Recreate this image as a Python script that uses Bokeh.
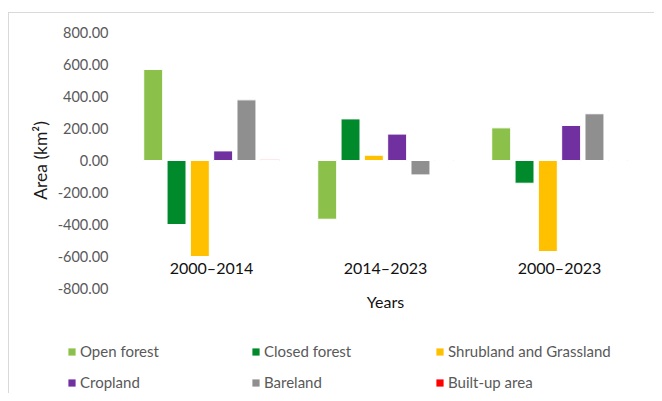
from bokeh.plotting import figure
from bokeh.models import (FactorRange, Range1d, FixedTicker, NumeralTickFormatter,
                          Legend, LegendItem, ColumnDataSource)
from bokeh.layouts import column, row
from bokeh.transform import dodge
from bokeh.core.properties import value
from bokeh.embed import file_html
from bokeh.resources import INLINE

periods = ["2000–2014", "2014–2023", "2000–2023"]
classes = ["Open forest", "Closed forest", "Shrubland and Grassland",
           "Cropland", "Bareland", "Built-up area"]
open_forest = [569, -367, 204]
closed_forest = [-400, 260, -142]
shrubland = [-600, 33, -569]
cropland = [60, 165, 219]
bareland = [379, -90, 292]
builtup = [4, 3, 3]
y_ticks = [-800, -600, -400, -200, 0, 200, 400, 600, 800]

series = [open_forest, closed_forest, shrubland, cropland, bareland, builtup]
colors = ["#8BC04A", "#008A2B", "#FFC000", "#7030A0", "#8F8F8F", "#FF0000"]

FONT = "Lato"

p = figure(x_range=FactorRange(factors=periods, range_padding=0),
           y_range=Range1d(-800, 800),
           width=645, height=307, output_backend="svg", toolbar_location=None,
           min_border_left=115, min_border_right=8, min_border_top=19,
           min_border_bottom=32)

src = ColumnDataSource(dict(period=periods, **{f"s{i}": s for i, s in enumerate(series)}))

pitch = 0.134
for i, (name, col) in enumerate(zip(classes, colors)):
    p.vbar(x=dodge("period", (i - 2.5) * pitch, range=p.x_range), top=f"s{i}",
           bottom=0, width=0.109, source=src, fill_color=col,
           line_color="white", line_width=1)

# y axis
p.yaxis.ticker = FixedTicker(ticks=y_ticks)
p.yaxis.formatter = NumeralTickFormatter(format="0.00")
p.yaxis.axis_line_color = None
p.yaxis.major_tick_line_color = None
p.yaxis.minor_tick_line_color = None
p.yaxis.major_label_standoff = 10
p.yaxis.major_label_text_font = FONT
p.yaxis.major_label_text_font_size = "14.5px"
p.yaxis.major_label_text_color = "#595959"
p.yaxis.axis_label = "Area (km²)"
p.yaxis.axis_label_text_font = FONT
p.yaxis.axis_label_text_font_size = "17.5px"
p.yaxis.axis_label_text_font_style = "normal"
p.yaxis.axis_label_text_color = "#1a1a1a"
p.yaxis.axis_label_standoff = 4

# x axis only carries the title
p.xaxis.ticker = FixedTicker(ticks=[])
p.xaxis.axis_line_color = None
p.xaxis.major_tick_line_color = None
p.xaxis.minor_tick_line_color = None
p.xaxis.major_label_standoff = 0
p.xaxis.axis_label = "Years"
p.xaxis.axis_label_text_font = FONT
p.xaxis.axis_label_text_font_size = "16px"
p.xaxis.axis_label_text_font_style = "normal"
p.xaxis.axis_label_text_color = "#111111"
p.xaxis.axis_label_standoff = 3

p.xgrid.visible = False
p.ygrid.visible = False
p.outline_line_color = None

# category labels
p.text(x="period", y=-669, text="period", source=src,
       text_font=value(FONT), text_font_size="16px", text_color="#111111",
       text_align="center", text_baseline="middle")

# legend strip
lg_fig = figure(width=645, height=73, x_range=Range1d(0, 1), y_range=Range1d(0, 1),
                output_backend="svg", toolbar_location=None, min_border=0)
lg_fig.axis.visible = False
lg_fig.grid.visible = False
lg_fig.outline_line_color = None
dummies = [lg_fig.vbar(x=[0], top=[0], width=0, fill_color=c, line_color=None)
           for c in colors]

col_x = [58, 242, 426]
for c in range(3):
    items = [LegendItem(label=classes[c], renderers=[dummies[c]]),
             LegendItem(label=classes[c + 3], renderers=[dummies[c + 3]])]
    lg = Legend(items=items, location=(col_x[c], 1), orientation="vertical",
                glyph_width=9, glyph_height=9, label_standoff=4, label_height=20,
                spacing=11, padding=0, margin=0, border_line_color=None,
                background_fill_alpha=0, label_text_font=FONT,
                label_text_font_size="15px", label_text_color="#595959")
    lg_fig.add_layout(lg, "center")

layout = column(p, row(lg_fig), margin=(12, 0, 0, 8),
                styles={"border-top": "1px solid #d9d9d9",
                        "border-left": "1px solid #d9d9d9"})

open("out.html", "w").write(file_html(layout, INLINE))
